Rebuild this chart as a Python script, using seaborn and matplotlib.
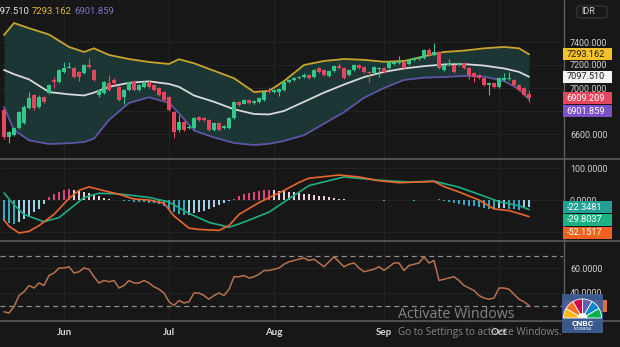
import matplotlib
matplotlib.use("Agg")
import matplotlib.pyplot as plt
from matplotlib.patches import Rectangle, FancyBboxPatch, Wedge
from matplotlib.lines import Line2D
import numpy as np
import seaborn as sns

# ---------------- daily candles (trading-day index) ----------------
opens = [6810, 6575, 6590, 6650, 6700, 6825, 6940, 6835, 6920, 6955,
         7070, 7050, 7140, 7175, 7175, 7140, 7130, 7200, 7155, 6940,
         6957, 7043, 7070, 7009, 6922, 6983, 7052, 6983, 7009, 7052,
         7026, 7000, 6965, 6922, 6791, 6635, 6704, 6652, 6652, 6748,
         6739, 6722, 6635, 6696, 6652, 6652, 6739, 6878, 6865, 6896,
         6870, 6878, 6896, 6983, 6965, 6965, 6983, 7052, 7070, 7087,
         7096, 7113, 7096, 7174, 7157, 7104, 7148, 7191, 7174, 7113,
         7157, 7200, 7183, 7139, 7130, 7165, 7174, 7174, 7209, 7217,
         7226, 7209, 7243, 7252, 7261, 7330, 7287, 7313, 7157, 7200,
         7200, 7200, 7217, 7174, 7130, 7113, 7087, 7026, 7043, 7009,
         7070, 7078, 7070, 7026, 7000, 6948]
highs = [6830, 6630, 6665, 6800, 6850, 6965, 6950, 6935, 6930, 7035,
         7095, 7165, 7230, 7230, 7185, 7150, 7210, 7260, 7165, 6990,
         7060, 7110, 7090, 7015, 6990, 7060, 7065, 7035, 7065, 7070,
         7035, 7005, 6975, 6930, 6800, 6765, 6715, 6680, 6750, 6760,
         6745, 6730, 6705, 6705, 6680, 6745, 6890, 6890, 6905, 6905,
         6895, 6920, 6975, 7010, 6990, 7000, 7060, 7080, 7095, 7105,
         7130, 7120, 7165, 7180, 7165, 7155, 7200, 7215, 7180, 7165,
         7210, 7210, 7190, 7145, 7190, 7180, 7180, 7235, 7235, 7275,
         7235, 7250, 7270, 7280, 7340, 7345, 7390, 7320, 7210, 7250,
         7210, 7225, 7225, 7180, 7140, 7120, 7095, 7050, 7050, 7095,
         7130, 7140, 7080, 7035, 7010, 6985]
lows = [6555, 6520, 6580, 6640, 6690, 6815, 6810, 6825, 6870, 6945,
        7000, 7045, 7130, 7170, 7085, 7060, 7120, 7170, 7060, 6925,
        6945, 6975, 7030, 6885, 6860, 6975, 6975, 6975, 7000, 7000,
        6975, 6930, 6890, 6800, 6565, 6620, 6625, 6640, 6645, 6715,
        6715, 6625, 6625, 6625, 6640, 6645, 6730, 6845, 6860, 6860,
        6860, 6870, 6890, 6955, 6955, 6930, 6975, 7045, 7060, 7080,
        7090, 7080, 7090, 7130, 7105, 7095, 7140, 7165, 7080, 7105,
        7150, 7165, 7130, 7050, 7120, 7100, 7130, 7165, 7200, 7210,
        7165, 7200, 7235, 7245, 7255, 7280, 7280, 7165, 7150, 7195,
        7130, 7190, 7165, 7080, 7050, 7075, 7015, 6939, 7000, 7000,
        7065, 7070, 7015, 6975, 6930, 6880]
closes = [6575, 6615, 6650, 6790, 6835, 6915, 6825, 6920, 6880, 7025,
          7050, 7155, 7175, 7185, 7095, 7095, 7200, 7180, 7070, 6980,
          7052, 6983, 7043, 6896, 6983, 7052, 6983, 7026, 7052, 7009,
          6983, 6939, 6896, 6809, 6617, 6704, 6635, 6661, 6739, 6722,
          6722, 6635, 6696, 6635, 6670, 6739, 6878, 6852, 6896, 6870,
          6887, 6913, 6965, 6965, 6983, 6990, 7052, 7070, 7087, 7096,
          7113, 7087, 7157, 7139, 7113, 7148, 7191, 7174, 7087, 7157,
          7200, 7174, 7139, 7130, 7183, 7174, 7139, 7226, 7226, 7235,
          7174, 7243, 7261, 7270, 7330, 7287, 7313, 7174, 7200, 7217,
          7139, 7217, 7174, 7113, 7096, 7087, 7026, 7043, 7009, 7087,
          7087, 7087, 7026, 6983, 6939, 6909.209]

# ---------------- Bollinger bands ----------------
band_days = [0, 2, 5, 9, 13, 16, 18, 21, 25, 29, 33, 35, 38, 42, 46, 50,
             53, 56, 60, 64, 68, 72, 76, 80, 84, 88, 92, 96, 100, 103, 105]
bb_upper = [7460, 7565, 7520, 7465, 7357, 7313, 7345, 7287, 7252, 7226,
            7209, 7250, 7215, 7150, 7085, 6965, 6975, 7060, 7200, 7235,
            7252, 7245, 7228, 7235, 7275, 7313, 7325, 7345, 7357, 7345,
            7293.162]
bb_basis = [7157, 7120, 7075, 6965, 6945, 6935, 6960, 7010, 7045, 7058,
            7035, 7010, 6935, 6880, 6815, 6774, 6770, 6800, 6880, 6960,
            7030, 7095, 7140, 7170, 7190, 7205, 7208, 7195, 7170, 7140,
            7097.51]
bb_lower = [6835, 6635, 6545, 6513, 6520, 6530, 6560, 6722, 6870, 6920,
            6870, 6780, 6630, 6570, 6522, 6504, 6515, 6540, 6590, 6690,
            6790, 6915, 7000, 7070, 7090, 7096, 7105, 7100, 7060, 6990,
            6901.859]

# ---------------- MACD ----------------
macd_days = [0, 1, 3, 5, 7, 10, 13, 15, 17, 19, 23, 26, 29, 32, 34, 37, 39,
             43, 45, 47, 51, 56, 59, 61, 67, 71, 75, 79, 86, 88, 91, 95, 98,
             101, 104, 105]
macd_line = [-62, -82, -103, -98, -80, -45, 5, 30, 41, 33, 18, 3, 0, -10,
             -50, -88, -92, -95, -80, -45, -8, 30, 55, 68, 78, 72, 60, 54,
             58, 42, 25, 0, -28, -33, -47, -52.1517]
signal_days = [0, 2, 4, 8, 11, 13, 16, 19, 23, 29, 33, 37, 41, 45, 47, 53,
               57, 61, 68, 75, 81, 86, 91, 96, 99, 103, 105]
signal_line = [22, -15, -45, -68, -55, -30, 8, 21, 19, 8, -6, -42, -70, -85,
               -75, -38, 4, 45, 72, 62, 56, 59, 40, 12, -5, -18, -29.8037]
macd_hist = [-66, -72, -76, -70, -60, -50, -38, -27, -14,
             8, 18, 25, 31, 35, 32, 29, 26, 22, 17, 11, 6, 3, 1, -1,
             -2, -4, -5, -6, -7, -8, -10, -14, -20, -28, -38, -44, -48, -46,
             -42, -38, -34, -28, -22, -16, -10, -4,
             4, 12, 18, 22, 26, 28, 30, 31, 30, 29, 27, 25, 24, 22, 20, 18,
             16, 14, 12, 9, 6, 4,
             2, 1, 1, -1, -1, 1, -1, -1, -2, -1, 1, -1, -1, 1, -2, -1, 1, -1,
             1, 2,
             -3, -6, -9, -12, -15, -18, -20, -22, -25, -27, -28, -26, -24,
             -27, -29, -30, -26, -22.3481]

# ---------------- RSI ----------------
rsi = [25, 24, 29, 38, 41, 46, 44, 48, 46, 54, 56, 60, 60, 61, 56, 57, 60,
       59, 53, 48, 50, 49, 50, 44, 46, 50, 48, 48, 50, 48, 45, 43, 40, 33,
       30, 34, 32, 33, 40, 40, 38, 35, 38, 40, 38, 43, 53, 53, 54, 52, 53,
       55, 58, 58, 59, 60, 63, 65, 66, 67, 68, 66, 67, 64, 61, 65, 69, 65,
       61, 63, 64, 60, 57, 58, 59, 61, 58, 61, 64, 64, 58, 62, 63, 64, 69,
       64, 66, 50, 51, 52, 53, 50, 46, 44, 42, 38, 36, 35, 36, 44, 44, 43,
       39, 35, 33, 30.0]
rsi_levels = [70, 30]

month_days = [12, 33, 54, 76, 99]
month_labels = ["Jun", "Jul", "Aug", "Sep", "Oct"]
price_ticks = [6600, 6800, 7000, 7200, 7400]
price_tick_labels = ["6600.000", "", "7000.000", "7200.000", "7400.000"]
macd_ticks = [-100, 0, 100]
macd_tick_labels = ["", "0.0000", "100.0000"]
rsi_ticks = [40, 60]
rsi_tick_labels = ["40.0000", "60.0000"]

# ---------------- style ----------------
W, H = 620, 347
BG = "#171717"
GRID = "#242424"
SEP = "#5c5c5c"
TICK = "#d4d4d4"
GREEN, RED = "#33c88a", "#e5475e"
UPPER_C, BASIS_C, LOWER_C = "#c9a52c", "#d9d9d9", "#5c55a6"
FILL_C = "#1c3535"
MACD_C, SIGNAL_C = "#ea662c", "#1eae86"
RSI_C = "#b8714f"

sns.set_theme(style="dark", rc={
    "axes.facecolor": BG, "figure.facecolor": BG, "savefig.facecolor": BG,
    "axes.edgecolor": BG, "grid.color": GRID, "grid.linewidth": 0.7,
    "xtick.color": TICK, "ytick.color": TICK,
})
plt.rcParams["font.family"] = ["Roboto", "DejaVu Sans"]

fig = plt.figure(figsize=(W / 100, H / 100), dpi=100)

PLOT_W = 563


def fx(px):
    return px / W


def fy(py):
    return 1 - py / H


def add_panel(top, bottom):
    ax = fig.add_axes([0, fy(bottom), PLOT_W / W, (bottom - top) / H])
    for s in ax.spines.values():
        s.set_visible(False)
    return ax


PRICE_PX = (0, 158)
MACD_PX = (160, 240)
RSI_PX = (241, 320)
ax_p = add_panel(*PRICE_PX)
ax_m = add_panel(*MACD_PX)
ax_r = add_panel(*RSI_PX)

days = np.arange(len(closes))
x_lim = (-0.8, (PLOT_W - 4) / 5)
P_LIM = (7000 - 70 * 200 / 23, 7000 + 88 * 200 / 23)
M_LIM = (-125, 125)
R_LIM = (18.4, 81.6)

# ---------------- price panel ----------------
ax_p.fill_between(band_days, bb_lower, bb_upper, color=FILL_C, lw=0, zorder=1)
sns.lineplot(x=band_days, y=bb_upper, ax=ax_p, color=UPPER_C, linewidth=1.3, zorder=2)
sns.lineplot(x=band_days, y=bb_basis, ax=ax_p, color=BASIS_C, linewidth=1.3, zorder=2)
sns.lineplot(x=band_days, y=bb_lower, ax=ax_p, color=LOWER_C, linewidth=1.3, zorder=2)

o, h, l, c = (np.array(v, float) for v in (opens, highs, lows, closes))
cols = np.where(c >= o, GREEN, RED)
ax_p.vlines(days, l, h, colors=cols, lw=0.8, zorder=3)
ax_p.bar(days, np.maximum(np.abs(c - o), 8), bottom=np.minimum(o, c),
         width=0.62, color=cols, lw=0, zorder=4)

ax_p.set_ylim(*P_LIM)
ax_p.yaxis.tick_right()
ax_p.set_yticks(price_ticks)
ax_p.set_yticklabels(price_tick_labels)

# ---------------- MACD panel ----------------
hv = np.array(macd_hist, float)
prev = np.r_[0.0, hv[:-1]]
hcols = np.where(hv >= 0,
                 np.where(hv >= prev, "#e0467c", "#e8cfd9"),
                 np.where(hv < prev, "#36a8c2", "#9fd3ea"))
ax_m.bar(days, hv, width=0.3, color=hcols, lw=0, zorder=2)
sns.lineplot(x=signal_days, y=signal_line, ax=ax_m, color=SIGNAL_C, linewidth=1.2, zorder=3)
sns.lineplot(x=macd_days, y=macd_line, ax=ax_m, color=MACD_C, linewidth=1.2, zorder=4)
ax_m.set_ylim(*M_LIM)
ax_m.yaxis.tick_right()
ax_m.set_yticks(macd_ticks)
ax_m.set_yticklabels(macd_tick_labels)

# ---------------- RSI panel ----------------
for lv in rsi_levels:
    ax_r.axhline(lv, color="#8e8e8e", lw=0.9, dashes=(4, 3), zorder=2)
sns.lineplot(x=days, y=rsi, ax=ax_r, color=RSI_C, linewidth=1.1, zorder=3)
ax_r.set_ylim(*R_LIM)
ax_r.yaxis.tick_right()
ax_r.set_yticks(rsi_ticks)
ax_r.set_yticklabels(rsi_tick_labels)

for ax in (ax_p, ax_m, ax_r):
    ax.set_xlim(*x_lim)
    ax.set_xticks(month_days)
    ax.grid(True, axis="both", color=GRID, lw=0.7, zorder=0)
    ax.set_axisbelow(True)
    ax.set_xlabel("")
    ax.set_ylabel("")
    ax.tick_params(axis="y", length=0, pad=5, labelsize=6.4, labelcolor=TICK)
    ax.tick_params(axis="x", length=0)
ax_p.set_xticklabels([])
ax_m.set_xticklabels([])
ax_r.set_xticklabels(month_labels)
ax_r.tick_params(axis="x", pad=6, labelsize=7, labelcolor="#d8d8d8")
for t in ax_r.get_xticklabels():
    t.set_fontfamily(["Lato", "DejaVu Sans"])
    t.set_fontweight("bold")

# ---------------- separators ----------------
for py in (159, 240.5, 321):
    fig.add_artist(Line2D([0, 1], [fy(py), fy(py)], transform=fig.transFigure,
                          color=SEP, lw=1.2))
fig.add_artist(Line2D([fx(563.5), fx(563.5)], [fy(322), 1], transform=fig.transFigure,
                      color=SEP, lw=1.0))


# ---------------- value tags on the scale ----------------
def to_py(v, lim, px):
    lo, hi = lim
    return px[0] + (hi - v) / (hi - lo) * (px[1] - px[0])


def value_tag(py, face, text, tcolor, width=49):
    fig.patches.append(Rectangle((fx(563), fy(py + 6)), width / W, 12 / H,
                                 transform=fig.transFigure, facecolor=face,
                                 edgecolor="none", zorder=5))
    fig.text(fx(566.5), fy(py), text, color=tcolor, fontsize=6.6,
             va="center", ha="left", zorder=6)


py_up = to_py(bb_upper[-1], P_LIM, PRICE_PX)
py_mid = to_py(bb_basis[-1], P_LIM, PRICE_PX)
py_close = to_py(closes[-1], P_LIM, PRICE_PX)
value_tag(py_up, "#f2c12c", f"{bb_upper[-1]:.3f}", "#1a1a1a")
value_tag(py_mid, "#f4f4f4", f"{bb_basis[-1]:.3f}", "#1a1a1a")
value_tag(py_close, "#e5475e", f"{closes[-1]:.3f}", "white")
value_tag(py_close + 13, "#7b52c9", f"{bb_lower[-1]:.3f}", "white")

py_hist = to_py(macd_hist[-1], M_LIM, MACD_PX)
value_tag(py_hist, "#22a096", f"{macd_hist[-1]:.4f}", "white")
value_tag(py_hist + 12.7, "#19b384", f"{signal_line[-1]:.4f}", "white")
value_tag(py_hist + 25.4, "#f0621e", f"{macd_line[-1]:.4f}", "white")

value_tag(to_py(rsi[-1], R_LIM, RSI_PX), "#e0703a", f"{rsi[-1]:.4f}", "white", width=44)

# ---------------- legend line (top-left) ----------------
fig.text(fx(-10), fy(11), f"{bb_basis[-1]:.3f}", color="#e6e6e6", fontsize=6.8, va="center")
fig.text(fx(32), fy(11), f"{bb_upper[-1]:.3f}", color="#e2b93b", fontsize=6.8, va="center")
fig.text(fx(74), fy(11), f"{bb_lower[-1]:.3f}", color="#8072cc", fontsize=6.8, va="center")

# ---------------- currency selector ----------------
fig.patches.append(FancyBboxPatch((fx(577), fy(18)), 30 / W, 12 / H,
                                  boxstyle="round,pad=0,rounding_size=0.006",
                                  transform=fig.transFigure, facecolor=BG,
                                  edgecolor="#3a3a3a", lw=0.8, zorder=5))
fig.text(fx(581), fy(12), "IDR", color="#d0d0d0", fontsize=6.5, va="center", zorder=6)
fig.add_artist(Line2D([fx(598), fx(600), fx(602)], [fy(11), fy(13), fy(11)],
                      transform=fig.transFigure, color="#c0c0c0", lw=0.8))

# ---------------- broadcaster logo (sits over the scale tags) ----------------
ax_logo = fig.add_axes([fx(562), fy(333), 41 / W, 39 / H], zorder=20)
ax_logo.set_xlim(0, 41)
ax_logo.set_ylim(0, 39)
ax_logo.axis("off")
ax_logo.add_patch(Rectangle((0, 0), 41, 39, facecolor="#3f5e98", alpha=0.92, lw=0))
feathers = ["#fcb711", "#f37021", "#cc004c", "#6460aa", "#0089d0", "#0db14b"]
for i, fc in enumerate(feathers):
    ax_logo.add_patch(Wedge((20.5, 15), 19, 150 - 30 * i, 180 - 30 * i,
                            facecolor=fc, edgecolor="white", lw=0.6))
ax_logo.add_patch(Wedge((20.5, 15), 5, 0, 180, facecolor="white", lw=0))
ax_logo.text(20.5, 9.5, "CNBC", color="white", fontsize=6, fontweight="bold",
             ha="center", va="center")
ax_logo.text(20.5, 3.5, "INDONESIA", color="white", fontsize=2.6,
             ha="center", va="center")

# ---------------- OS watermark ----------------
fig.text(fx(398), fy(315), "Activate Windows", color="#a0a0a0", fontsize=10.3,
         va="center", ha="left", family=["Open Sans", "DejaVu Sans"], alpha=0.8, zorder=8)
fig.text(fx(398), fy(333), "Go to Settings to activate Windows.", color="#a0a0a0",
         fontsize=7.2, va="center", ha="left", family=["Open Sans", "DejaVu Sans"],
         alpha=0.8, zorder=8)

fig.savefig("out.png", dpi=100, facecolor=BG)
